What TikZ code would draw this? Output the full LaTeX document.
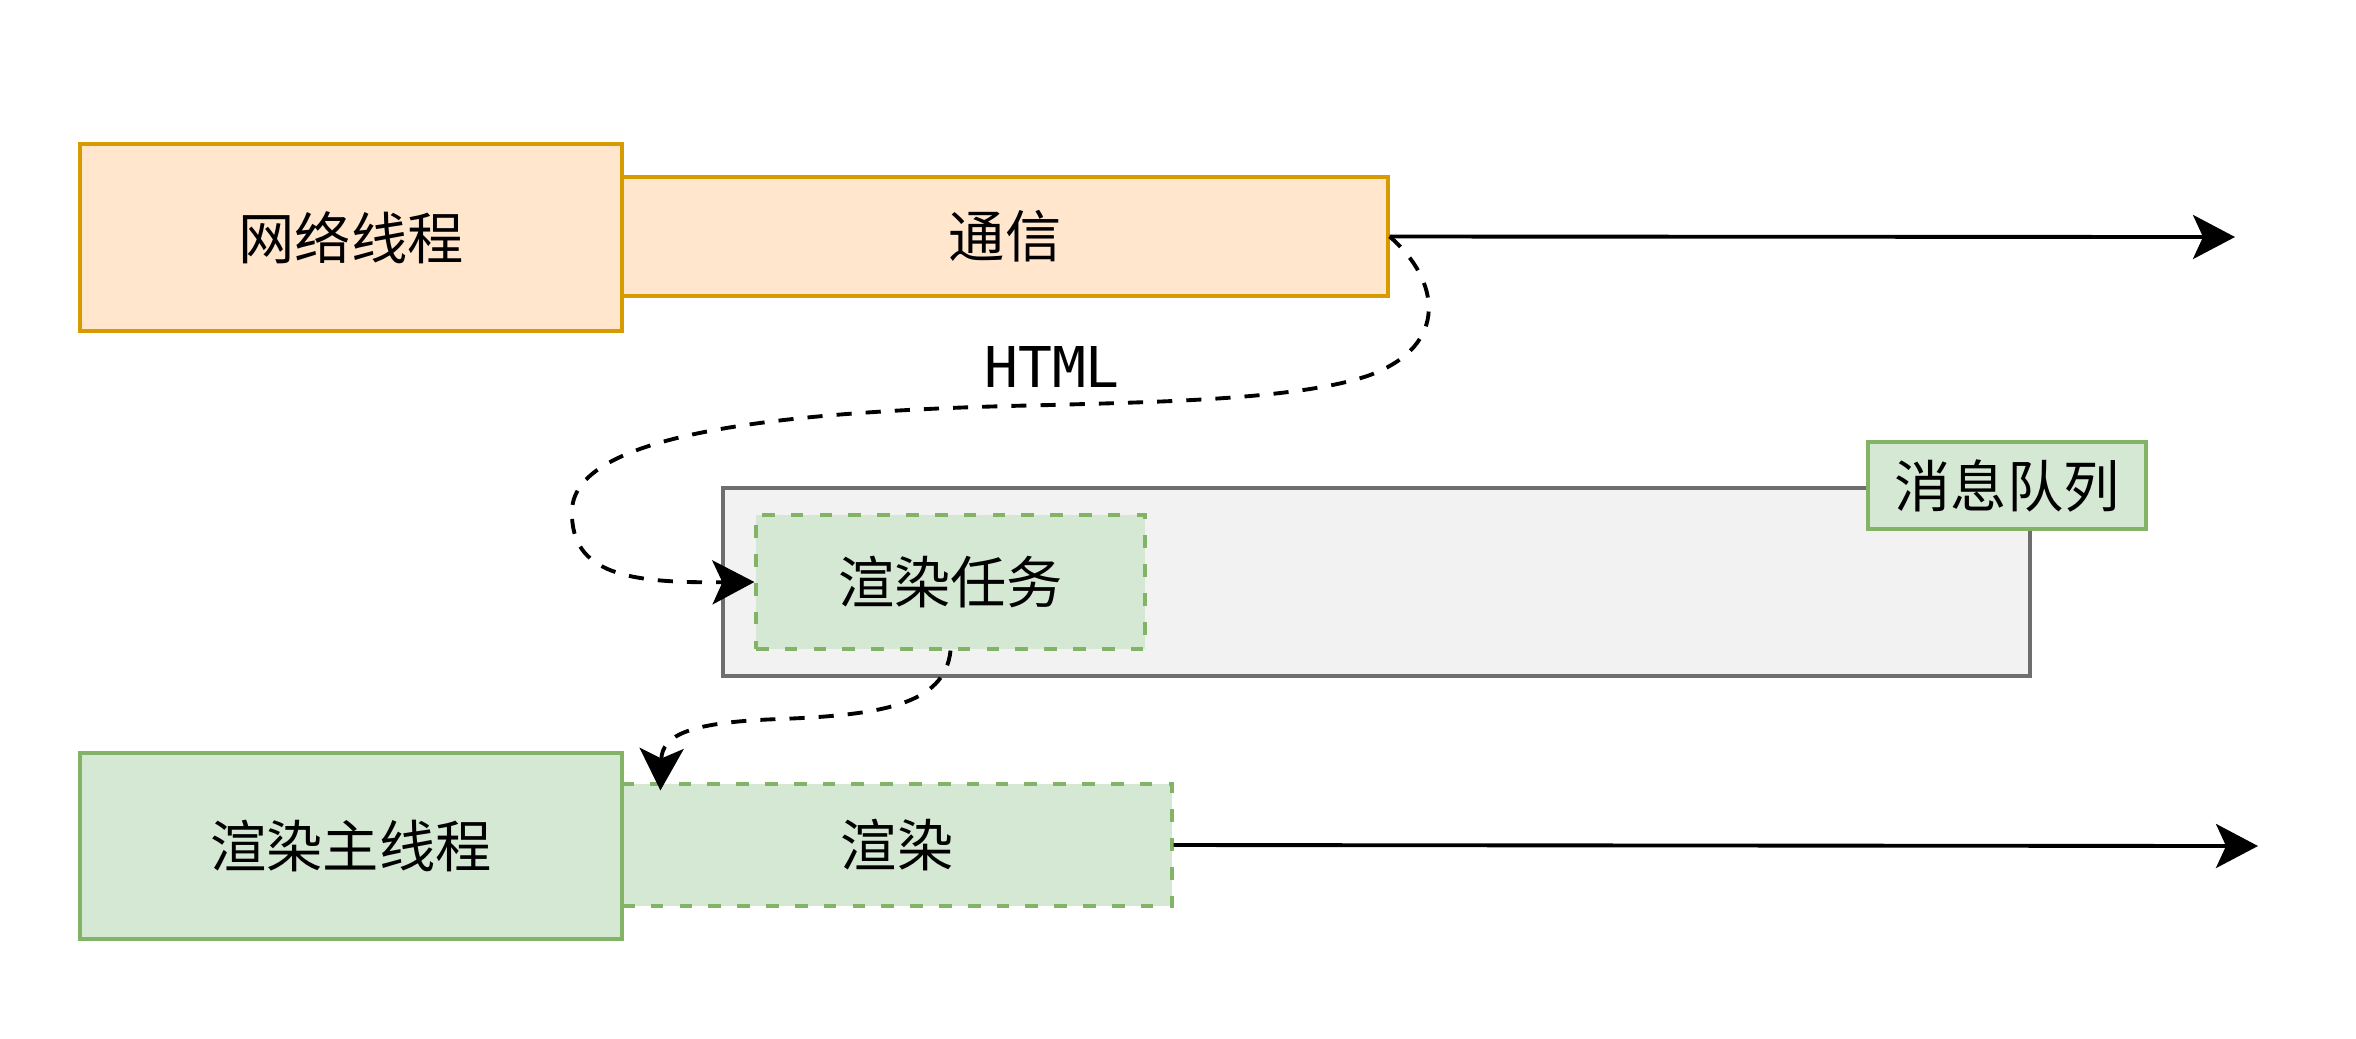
\documentclass[tikz,border=0pt]{standalone}
\usepackage{fontspec}
\usepackage{tikz}
\usetikzlibrary{arrows.meta, positioning}
\newfontfamily\cjk{Noto Sans CJK SC}
\setmonofont{DejaVu Sans Mono}

\definecolor{orangefill}{HTML}{FFE6CC}
\definecolor{orangeline}{HTML}{D79B00}
\definecolor{greenfill}{HTML}{D5E8D4}
\definecolor{greenline}{HTML}{82B366}
\definecolor{queuefill}{HTML}{F2F2F2}
\definecolor{queueline}{HTML}{6E6E6E}

\begin{document}
\begin{tikzpicture}[
  font=\cjk\fontsize{16pt}{19pt}\selectfont,
  box/.style={rectangle, inner sep=0pt, line width=0.9pt},
  netbox/.style={box, draw=orangeline, fill=orangefill},
  greenbox/.style={box, draw=greenline, fill=greenfill},
  taskbox/.style={greenbox, dash pattern=on 3.6pt off 4.6pt},
  flow/.style={line width=1.1pt, -{Stealth[length=0.42cm,width=0.44cm,inset=0.1cm]}},
  msg/.style={flow, dash pattern=on 4.3pt off 4pt}
]
\useasboundingbox (0,0) rectangle (23.56,-10.38);

% network thread
\node[netbox, minimum width=7.66cm, minimum height=1.19cm] (comm) at (10.05,-2.365) {通信};
\node[netbox, minimum width=5.42cm, minimum height=1.87cm] (net) at (3.51,-2.375) {网络线程};
\coordinate (netend) at (22.35,-2.37);
\draw[flow] (comm.east) -- (netend);

% message queue
\node[box, draw=queueline, fill=queuefill, minimum width=13.07cm, minimum height=1.88cm] (queue) at (13.765,-5.82) {};
\node[greenbox, minimum width=2.78cm, minimum height=0.87cm] (queuename) at (20.07,-4.855) {消息队列};
\node[taskbox, minimum width=3.89cm, minimum height=1.34cm] (task) at (9.505,-5.82) {渲染任务};

% render main thread
\node[taskbox, minimum width=5.5cm, minimum height=1.22cm] (render) at (8.97,-8.45) {渲染};
\node[greenbox, minimum width=5.42cm, minimum height=1.86cm] (main) at (3.51,-8.46) {渲染主线程};
\coordinate (mainend) at (22.58,-8.46);
\draw[flow] (render.east) -- (mainend);

% HTML goes into the queue, task goes to main thread
\draw[msg] (comm.east) .. controls (14.4,-2.8) and (14.5,-3.45) .. (13.7,-3.75)
  .. controls (13.0,-4.0) and (11.5,-4.02) .. (10.5,-4.05)
  .. controls (8.0,-4.1) and (5.75,-4.3) .. (5.72,-5.1)
  .. controls (5.7,-5.75) and (6.3,-5.83) .. (task.west);
\node[font=\ttfamily\fontsize{16pt}{19pt}\selectfont] (html) at (10.52,-3.67) {HTML};
\coordinate (rendertop) at ([xshift=0.4cm,yshift=-0.08cm]render.north west);
\draw[msg] (task.south) .. controls (9.45,-7.05) and (8.8,-7.15) .. (7.8,-7.19)
  .. controls (6.9,-7.22) and (6.62,-7.35) .. (rendertop);
\end{tikzpicture}
\end{document}
